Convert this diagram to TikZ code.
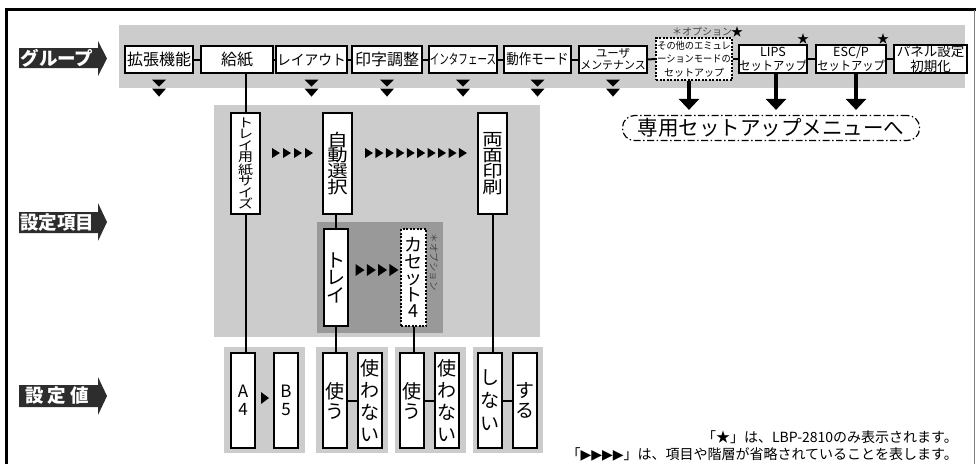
\documentclass[tikz,border=0pt]{standalone}
\usepackage{fontspec}
\setmainfont{Noto Sans CJK JP}
\newfontfamily\wfont[FakeStretch=1.2]{Noto Sans CJK JP}
\newfontfamily\symf{DejaVu Sans}
\usetikzlibrary{arrows.meta,calc}
\definecolor{lgray}{RGB}{204,204,204}
\definecolor{dgray}{RGB}{153,153,153}
\definecolor{tagc}{RGB}{45,45,45}
\definecolor{optc}{RGB}{70,70,70}
\newcommand\fs[2]{\fontsize{#1}{#2}\selectfont}
\begin{document}
\begin{tikzpicture}[x=1pt,y=-1pt,
  hbox/.style={draw,fill=white,line width=1.2pt,inner sep=0pt,align=center,minimum height=27pt},
  vbox/.style={draw,fill=white,line width=1.2pt,inner sep=0pt,align=center},
  valbox/.style={vbox,minimum width=24pt,minimum height=95pt,font=\fs{19}{20}},
  conn/.style={line width=2pt},
  bigarrow/.style={line width=4.5pt,-{Triangle[width=20pt,length=11pt]},shorten >=5pt},
  tagtext/.style={text=white,font=\bfseries\fs{18.5}{18.5},inner sep=0pt},
  opt/.style={text=optc,font=\fs{9.5}{9.5},inner sep=0pt},
  star/.style={inner sep=0pt,font=\fs{12}{12}}]
\useasboundingbox (0,0) rectangle (976,464);
% frame
\draw[line width=3pt] (6.5,464) -- (6.5,9.5) -- (976,9.5);
\draw[gray,line width=0.8pt] (974,9.5) -- (974,464);

% left tags
\fill[tagc] (19,48) -- (98,48) -- (98,41) -- (107,58.5) -- (98,76) -- (98,68) -- (19,68) -- cycle;
\node[tagtext] (tgrp) at (57,58) {グループ};
\fill[tagc] (19,212) -- (98,212) -- (98,203) -- (107,222) -- (98,241) -- (98,233) -- (19,233) -- cycle;
\node[tagtext] (titem) at (57,222.5) {設定項目};
\fill[tagc] (19,385) -- (98,385) -- (98,377) -- (107,396) -- (98,415) -- (98,407) -- (19,407) -- cycle;
\node[tagtext] (tval) at (57,396) {設 定 値};

% panels
\fill[lgray] (119,25) rectangle (965,88);
\fill[lgray] (214,105) rectangle (540,337);
\fill[dgray] (317,222) rectangle (443,333);
\fill[lgray] (224,347) rectangle (305,453);
\fill[lgray] (316,347) rectangle (388,453);
\fill[lgray] (395,347) rectangle (466,453);
\fill[lgray] (473,347) rectangle (543,453);

% top row
\node[hbox,minimum width=68pt,font=\fs{16}{16}] (ext) at (159,59.5) {拡張機能};
\node[hbox,minimum width=72pt,font=\fs{16}{16}] (kyushi) at (237,59.5) {給紙};
\node[hbox,minimum width=71pt,font=\fs{14.5}{14.5}] (layout) at (311.5,59.5) {\scalebox{0.95}[1]{レイアウト}};
\node[hbox,minimum width=70pt,font=\fs{16}{16}] (inji) at (387,59.5) {印字調整};
\node[hbox,minimum width=68pt,font=\fs{14}{14}] (intf) at (463,59.5) {\scalebox{0.68}[1]{インタフェース}};
\node[hbox,minimum width=67pt,font=\fs{14.5}{14.5}] (dosa) at (537.5,59.5) {\scalebox{0.86}[1]{動作モード}};
\node[hbox,minimum width=68pt,font=\fs{11.5}{12}] (user) at (613,59.5) {ユーザ\\\scalebox{0.95}[1]{メンテナンス}};
\node[hbox,dash pattern=on 2pt off 1.5pt,minimum width=76pt,minimum height=42pt,font=\fs{10}{13.5}] (emu) at (694,59) {\scalebox{0.92}[1]{その他のエミュレ}\\\scalebox{0.92}[1]{ーションモードの}\\セットアップ};
\node[hbox,minimum width=68pt,minimum height=28pt,font=\fs{12.5}{14}] (lips) at (773,59) {LIPS\\\scalebox{0.9}[1]{セットアップ}};
\node[hbox,minimum width=70pt,minimum height=28pt,font=\fs{12.5}{14}] (escp) at (851,59) {ESC/P\\\scalebox{0.9}[1]{セットアップ}};
\node[hbox,minimum width=73pt,minimum height=28pt,font=\fs{13.5}{14.5}] (panel) at (930.5,59) {パネル設定\\初期化};

\draw[conn] (ext.east) -- (kyushi.west);
\draw[conn] (kyushi.east) -- (layout.west);
\draw[conn] (layout.east) -- (inji.west);
\draw[conn] (inji.east) -- (intf.west);
\draw[conn] (intf.east) -- (dosa.west);
\draw[conn] (dosa.east) -- (user.west);
\draw[conn] (user.east) -- (emu.west);
\draw[conn] (emu.east) -- (lips.west);
\draw[conn] (lips.east) -- (escp.west);
\draw[conn] (escp.east) -- (panel.west);

\node[opt,font=\fs{10}{10}] (opt1) at (702,32) {＊オプション};
\node[star] (st1) at (737,32) {★};
\node[star] (st2) at (803,39) {★};
\node[star] (st3) at (883,39) {★};

% double down triangles
\foreach \b in {ext,layout,inji,intf,dosa,user}{
  \fill ($(\b.south)+(-7,6)$) -- ++(14,0) -- ++(-7,7) -- cycle;
  \fill ($(\b.south)+(-7,15)$) -- ++(14,0) -- ++(-7,8) -- cycle;
}

% menu
\node[draw,line width=1.2pt,rounded corners=12pt,dash pattern=on 7pt off 2.5pt on 1.5pt off 2.5pt,
  minimum width=297pt,minimum height=25pt,inner sep=0pt,font=\fs{20.5}{20.5}] (menu) at (771,128) {専用セットアップメニューへ};
\draw[bigarrow] ($(emu.south)+(-5,0)$) -- ($(menu.north)+(-82,0)$);
\draw[bigarrow] ($(lips.south)+(3,0)$) -- ($(menu.north)+(5,0)$);
\draw[bigarrow] ($(escp.south)+(5,0)$) -- ($(menu.north)+(85,0)$);

% setting items
\node[vbox,minimum width=29pt,minimum height=101pt,font=\wfont\fs{12.5}{11.4}] (tsize) at (245.5,163.5) {ト\\レ\\イ\\用\\紙\\サ\\イ\\ズ};
\node[vbox,minimum width=29pt,minimum height=101pt,font=\wfont\fs{17}{15.5}] (auto) at (337.5,163.5) {自\\動\\選\\択};
\node[vbox,minimum width=29pt,minimum height=101pt,font=\wfont\fs{17}{15.5}] (duplex) at (492.5,163.5) {両\\面\\印\\刷};
\node[vbox,minimum width=24pt,minimum height=97pt,font=\fs{19}{17.5}] (tray) at (336,277.5) {ト\\レ\\イ};
\node[vbox,dash pattern=on 2pt off 1.5pt,minimum width=25pt,minimum height=97pt,font=\fs{18}{16.5}] (cas) at (413.5,277.5) {カ\\セ\\ッ\\ト\\4};
\node[opt,rotate=-90] (opt2) at (434,262) {＊オプション};

% values
\node[valbox,font=\fs{17}{18}] (a4) at (243,400.5) {A\\4};
\node[valbox,font=\fs{17}{18}] (b5) at (286,400.5) {B\\5};
\node[valbox] (use1) at (335,400.5) {使\\う};
\node[valbox,font=\fs{19}{22}] (nouse1) at (370,400.5) {使\\わ\\な\\い};
\node[valbox] (use2) at (412,400.5) {使\\う};
\node[valbox,font=\fs{19}{22}] (nouse2) at (447,400.5) {使\\わ\\な\\い};
\node[valbox,font=\fs{19}{23}] (no) at (490,400.5) {し\\な\\い};
\node[valbox] (yes) at (525,400.5) {す\\る};

% connectors
\draw[conn] (tsize.north |- kyushi.south) -- (tsize.north);
\draw[conn] (tsize.south) -- (tsize.south |- a4.north);
\draw[conn] (tray.north |- auto.south) -- (tray.north);
\draw[conn] (tray.south) -- (tray.south |- use1.north);
\draw[conn] (cas.south) -- (cas.south |- use2.north);
\draw[conn] (duplex.south) -- (duplex.south |- no.north);
\draw[conn] (use1.east) -- (nouse1.west);
\draw[conn] (use2.east) -- (nouse2.west);
\draw[conn] (no.east) -- (yes.west);

% omission markers
\foreach \i in {0,...,3} \fill (276+11*\i,153) ++(-4,-5) -- ++(8,5) -- ++(-8,5) -- cycle;
\foreach \i in {0,...,9} \fill (369+10.44*\i,153) ++(-4,-5) -- ++(8,5) -- ++(-8,5) -- cycle;
\foreach \i in {0,...,3} \fill (360+11.3*\i,270) ++(-4.5,-6) -- ++(9,6) -- ++(-9,6) -- cycle;
\fill (265,398) ++(-4,-6) -- ++(8,6) -- ++(-8,6) -- cycle;

% footnotes
\node[anchor=east,inner sep=0pt,font=\fs{14}{14}] (fn1) at (958,437) {「★」は、LBP-2810のみ表示されます。};
\node[anchor=east,inner sep=0pt,font=\fs{14}{14}] (fn2) at (958,454) {「{\symf\fs{14}{14}▶▶▶▶}」は、項目や階層が省略されていることを表します。};
\end{tikzpicture}
\end{document}
